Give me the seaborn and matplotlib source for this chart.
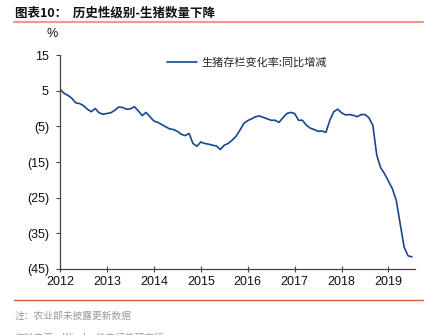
import numpy as np
import pandas as pd
import matplotlib
matplotlib.use("Agg")
import matplotlib.pyplot as plt
from matplotlib.ticker import FuncFormatter, FixedLocator
import seaborn as sns

# ---- data (monthly, Jan 2012 onward) ----
start_year = 2012
hog_yoy = [5.4, 4.3, 3.7, 2.9, 1.6, 1.4, 0.8, -0.2, -0.9, 0.0, -1.2, -1.6,
           -1.4, -1.2, -0.5, 0.4, 0.3, -0.2, -0.1, 0.5, -0.6, -2.0, -1.1, -2.3,
           -3.5, -3.9, -4.5, -5.1, -5.7, -5.9, -6.4, -7.2, -7.6, -7.0, -9.8, -10.6,
           -9.4, -9.8, -10.0, -10.3, -10.5, -11.5, -10.3, -9.8, -8.9, -7.8, -6.1, -4.2,
           -3.4, -2.9, -2.3, -2.1, -2.5, -2.9, -3.3, -3.3, -3.9, -2.6, -1.4, -1.1,
           -1.4, -3.3, -3.3, -4.7, -5.5, -5.9, -6.4, -6.3, -6.7, -3.3, -0.9, -0.2,
           -1.2, -1.8, -1.7, -1.9, -2.3, -1.7, -1.7, -2.6, -4.7, -13.1, -16.6, -18.3,
           -20.4, -22.5, -25.8, -32.4, -38.9, -41.3, -41.6]
year_ticks = [2012, 2013, 2014, 2015, 2016, 2017, 2018, 2019]
y_ticks = [15, 5, -5, -15, -25, -35, -45]
series_name = "生猪存栏变化率:同比增减"
title_text = "图表10：  历史性级别-生猪数量下降"
note_text = "注：农业部未披露更新数据"
source_text = "资料来源：Wind，华泰证券研究所"

df = pd.DataFrame({
    "t": [start_year + i / 12 for i in range(len(hog_yoy))],
    "v": hog_yoy,
})

sns.set_style("ticks")
plt.rcParams["font.family"] = ["Liberation Sans", "Noto Sans CJK SC", "DejaVu Sans"]
cjk = ["Noto Sans CJK SC", "DejaVu Sans"]

W, H = 439, 335
fig = plt.figure(figsize=(W / 100, H / 100), dpi=100)
ax = fig.add_axes([60 / W, 1 - 269 / H, (415 - 60) / W, (269 - 55) / H])

sns.lineplot(data=df, x="t", y="v", ax=ax, color="#17478C", linewidth=1.2,
             label=series_name, legend=False)

ax.set_xlim(2012, 2019.565)
ax.set_ylim(-45, 15)
ax.xaxis.set_major_locator(FixedLocator(year_ticks))
ax.yaxis.set_major_locator(FixedLocator(y_ticks))
ax.set_xticklabels([str(y) for y in year_ticks])
ax.yaxis.set_major_formatter(FuncFormatter(
    lambda v, p: f"({abs(v):.0f})" if v < 0 else f"{v:.0f}"))
ax.set_xlabel("")
ax.set_ylabel("")
for s in ["top", "right"]:
    ax.spines[s].set_visible(False)
for s in ["left", "bottom"]:
    ax.spines[s].set_color("#444444")
    ax.spines[s].set_linewidth(0.9)
ax.tick_params(axis="y", direction="out", length=3, width=0.8, color="#444444",
               labelsize=9, pad=5, labelcolor="#111111")
ax.tick_params(axis="x", direction="inout", length=4, width=0.8, color="#444444",
               labelsize=9, pad=3, labelcolor="#111111")

# legend (manual placement like the reference)
ax.legend(handles=ax.get_lines(), labels=[series_name], loc="upper left",
          bbox_to_anchor=((163 - 60) / (415 - 60), 1.01), frameon=False,
          handlelength=2.7, handletextpad=0.4, borderaxespad=0,
          prop={"family": cjk, "size": 8})

# % label
fig.text(52 / W, 1 - 34 / H, "%", ha="center", va="center", fontsize=9,
         color="#111111")

# title and rules
fig.text(15 / W, 1 - 12.5 / H, title_text, ha="left", va="center", fontsize=9,
         fontweight="bold", family=cjk, color="#111111")
fig.add_artist(plt.Line2D([14 / W, 423 / W], [1 - 22 / H, 1 - 22 / H],
                          color="#EE9A8E", linewidth=1.6, transform=fig.transFigure))
fig.add_artist(plt.Line2D([14 / W, 423 / W], [1 - 299.5 / H, 1 - 299.5 / H],
                          color="#D9533F", linewidth=1.0, transform=fig.transFigure))
fig.text(15 / W, 1 - 316 / H, note_text, ha="left", va="center", fontsize=7,
         family=cjk, color="#9A9A9A")
fig.text(15 / W, 1 - 338 / H, source_text, ha="left", va="center", fontsize=7,
         family=cjk, color="#9A9A9A")

fig.savefig("out.png", dpi=100)
